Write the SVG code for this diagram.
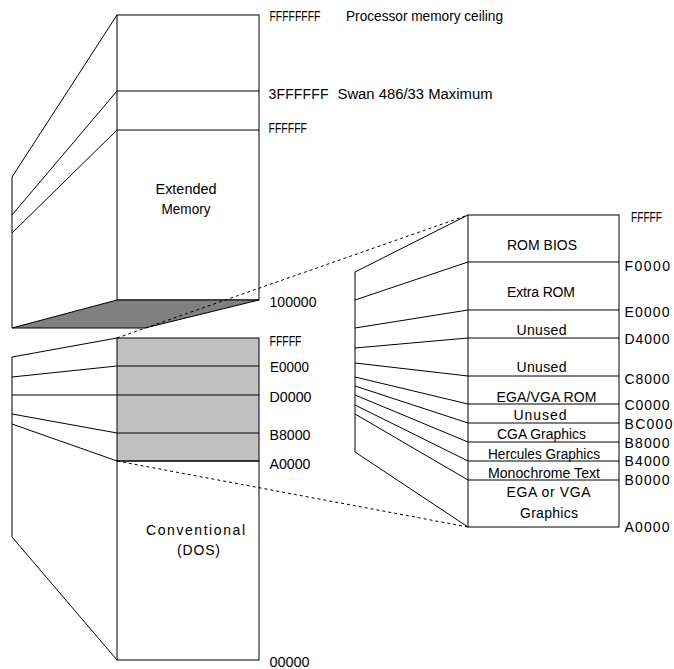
<svg xmlns="http://www.w3.org/2000/svg" width="674" height="669" viewBox="0 0 674 669">
<style>
.ln{stroke:#000;stroke-width:1;fill:none}
.box{stroke:#000;stroke-width:1;fill:#fff}
.dash{stroke:#000;stroke-width:1;fill:none;stroke-dasharray:3,3}
text{font-family:"Liberation Sans",Arial,sans-serif;font-size:14px;fill:#000}
.c{text-anchor:middle}
</style>
<rect width="674" height="669" fill="#fff"/>

<g id="extended-memory">
  <rect class="box" x="117" y="15" width="142" height="285"/>
  <line class="ln" x1="117" y1="91" x2="259" y2="91"/>
  <line class="ln" x1="117" y1="130" x2="259" y2="130"/>
  <line class="ln" x1="12" y1="177" x2="12" y2="328"/>
  <line class="ln" x1="117" y1="15" x2="12" y2="177"/>
  <line class="ln" x1="117" y1="91" x2="12" y2="215"/>
  <line class="ln" x1="117" y1="130" x2="12" y2="233"/>
  <polygon points="12,328 117,300 259,300 145,328" fill="#808080" stroke="#000" stroke-width="1"/>
  <text class="c" x="186" y="194" textLength="61" lengthAdjust="spacingAndGlyphs">Extended</text>
  <text class="c" x="186" y="213.5" textLength="49" lengthAdjust="spacingAndGlyphs">Memory</text>
</g>

<g id="conventional-memory">
  <rect x="117" y="338" width="142" height="123" fill="#c0c0c0"/>
  <rect class="box" x="117" y="461" width="142" height="199"/>
  <rect class="ln" x="117" y="338" width="142" height="123"/>
  <line class="ln" x1="117" y1="366" x2="259" y2="366"/>
  <line class="ln" x1="117" y1="395" x2="259" y2="395"/>
  <line class="ln" x1="117" y1="433" x2="259" y2="433"/>
  <line class="ln" x1="12" y1="357" x2="12" y2="537"/>
  <line class="ln" x1="12" y1="357" x2="117" y2="338"/>
  <line class="ln" x1="12" y1="377" x2="117" y2="366"/>
  <line class="ln" x1="12" y1="395" x2="117" y2="395"/>
  <line class="ln" x1="12" y1="414" x2="117" y2="433"/>
  <line class="ln" x1="12" y1="424" x2="117" y2="461"/>
  <line class="ln" x1="12" y1="537" x2="117" y2="660"/>
  <text class="c" x="195.5" y="535" textLength="99" lengthAdjust="spacing">Conventional</text>
  <text class="c" x="198.5" y="555" textLength="43" lengthAdjust="spacing">(DOS)</text>
</g>

<g id="upper-memory-detail">
  <rect class="box" x="468" y="215" width="151" height="312"/>
  <line class="ln" x1="468" y1="262" x2="619" y2="262"/>
  <line class="ln" x1="468" y1="310" x2="619" y2="310"/>
  <line class="ln" x1="468" y1="338" x2="619" y2="338"/>
  <line class="ln" x1="468" y1="376" x2="619" y2="376"/>
  <line class="ln" x1="468" y1="404" x2="619" y2="404"/>
  <line class="ln" x1="468" y1="423" x2="619" y2="423"/>
  <line class="ln" x1="468" y1="442" x2="619" y2="442"/>
  <line class="ln" x1="468" y1="461" x2="619" y2="461"/>
  <line class="ln" x1="468" y1="480" x2="619" y2="480"/>
  <line class="ln" x1="355" y1="272" x2="355" y2="452"/>
  <line class="ln" x1="355" y1="272" x2="468" y2="215"/>
  <line class="ln" x1="355" y1="300" x2="468" y2="262"/>
  <line class="ln" x1="355" y1="328" x2="468" y2="310"/>
  <line class="ln" x1="355" y1="348" x2="468" y2="338"/>
  <line class="ln" x1="355" y1="363" x2="468" y2="376"/>
  <line class="ln" x1="355" y1="377" x2="468" y2="404"/>
  <line class="ln" x1="355" y1="386" x2="468" y2="423"/>
  <line class="ln" x1="355" y1="395" x2="468" y2="442"/>
  <line class="ln" x1="355" y1="405" x2="468" y2="461"/>
  <line class="ln" x1="355" y1="414" x2="468" y2="480"/>
  <line class="ln" x1="355" y1="452" x2="468" y2="527"/>
  <text class="c" x="542" y="250" textLength="70" lengthAdjust="spacing">ROM BIOS</text>
  <text class="c" x="541" y="297" textLength="68" lengthAdjust="spacing">Extra ROM</text>
  <text class="c" x="541.5" y="334.5" textLength="50" lengthAdjust="spacing">Unused</text>
  <text class="c" x="541.5" y="371.5" textLength="50" lengthAdjust="spacing">Unused</text>
  <text class="c" x="546.5" y="401.5" textLength="100" lengthAdjust="spacing">EGA/VGA ROM</text>
  <text class="c" x="540" y="419.5" textLength="53" lengthAdjust="spacing">Unused</text>
  <text class="c" x="541.5" y="439" textLength="89" lengthAdjust="spacingAndGlyphs">CGA Graphics</text>
  <text class="c" x="544" y="459" textLength="112" lengthAdjust="spacingAndGlyphs">Hercules Graphics</text>
  <text class="c" x="544" y="477.5" textLength="112" lengthAdjust="spacingAndGlyphs">Monochrome Text</text>
  <text class="c" x="548.5" y="496.5" textLength="84" lengthAdjust="spacing">EGA or VGA</text>
  <text class="c" x="549" y="517.5" textLength="58" lengthAdjust="spacing">Graphics</text>
</g>

<g id="connectors">
  <line class="dash" x1="117" y1="338" x2="468" y2="215"/>
  <line class="dash" x1="117" y1="461" x2="468" y2="527"/>
</g>

<g id="address-labels-left">
  <text x="269.5" y="21" textLength="51" lengthAdjust="spacingAndGlyphs">FFFFFFFF</text>
  <text x="346" y="20.5" textLength="157" lengthAdjust="spacingAndGlyphs">Processor memory ceiling</text>
  <text x="268.5" y="99" textLength="60" lengthAdjust="spacing">3FFFFFF</text>
  <text x="337.5" y="99" textLength="155" lengthAdjust="spacingAndGlyphs">Swan 486/33  Maximum</text>
  <text x="268.5" y="133" textLength="38.5" lengthAdjust="spacingAndGlyphs">FFFFFF</text>
  <text x="269.5" y="307" textLength="47" lengthAdjust="spacing">100000</text>
  <text x="269.5" y="346" textLength="32" lengthAdjust="spacingAndGlyphs">FFFFF</text>
  <text x="270" y="372" textLength="39" lengthAdjust="spacingAndGlyphs">E0000</text>
  <text x="269.5" y="402" textLength="42" lengthAdjust="spacingAndGlyphs">D0000</text>
  <text x="269.5" y="440" textLength="41" lengthAdjust="spacingAndGlyphs">B8000</text>
  <text x="269.5" y="468.5" textLength="41" lengthAdjust="spacingAndGlyphs">A0000</text>
  <text x="269.5" y="666.5" textLength="40" lengthAdjust="spacingAndGlyphs">00000</text>
</g>

<g id="address-labels-right">
  <text x="631" y="221.5" textLength="31" lengthAdjust="spacingAndGlyphs">FFFFF</text>
  <text x="624.5" y="271" textLength="45.5" lengthAdjust="spacing">F0000</text>
  <text x="624.5" y="317" textLength="45" lengthAdjust="spacing">E0000</text>
  <text x="624.5" y="343.5" textLength="45" lengthAdjust="spacing">D4000</text>
  <text x="624.5" y="383.5" textLength="45" lengthAdjust="spacing">C8000</text>
  <text x="624.5" y="410" textLength="45" lengthAdjust="spacing">C0000</text>
  <text x="624.5" y="429" textLength="48" lengthAdjust="spacing">BC000</text>
  <text x="624.5" y="447.5" textLength="45" lengthAdjust="spacing">B8000</text>
  <text x="624.5" y="465.5" textLength="45" lengthAdjust="spacing">B4000</text>
  <text x="624.5" y="485" textLength="45" lengthAdjust="spacing">B0000</text>
  <text x="624.5" y="531.5" textLength="45" lengthAdjust="spacing">A0000</text>
</g>
</svg>
